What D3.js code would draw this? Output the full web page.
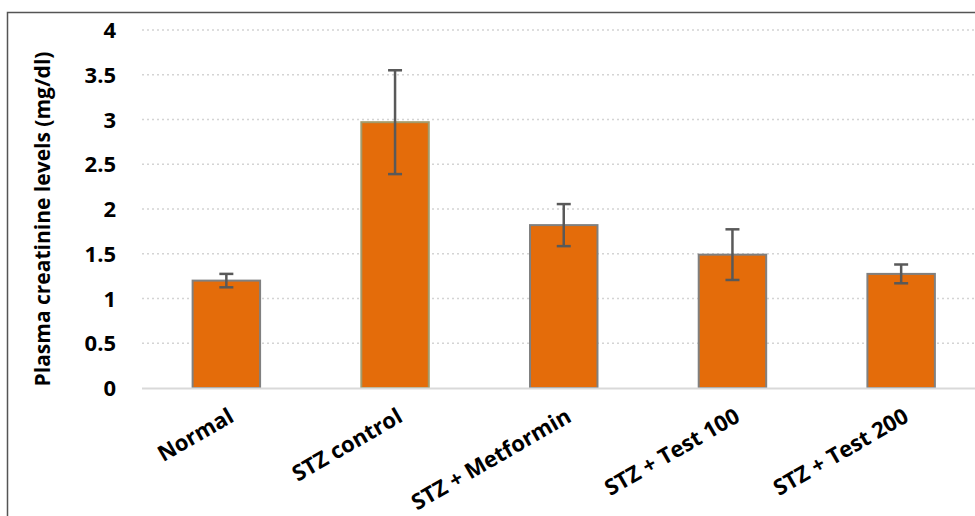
<!DOCTYPE html>
<html>
<head>
<meta charset="utf-8">
<script src="https://cdn.jsdelivr.net/npm/d3@7/dist/d3.min.js"></script>
<style>
  html, body { margin: 0; padding: 0; background: #fff; }
  svg { display: block; }
  text { font-family: "Open Sans", sans-serif; font-weight: 700; fill: #000; }
</style>
</head>
<body>
<svg id="chart" width="975" height="516"></svg>
<script>
const categories = ["Normal", "STZ control", "STZ + Metformin", "STZ + Test 100", "STZ + Test 200"];
const means = [1.2, 2.97, 1.82, 1.49, 1.275];
const errors = [0.075, 0.58, 0.235, 0.283, 0.105];
const yTicks = [0, 0.5, 1, 1.5, 2, 2.5, 3, 3.5, 4];
const yTitle = "Plasma creatinine levels (mg/dl)";

const svg = d3.select("#chart");
const W = 975, H = 516;

// frame
svg.append("path")
  .attr("d", `M7.5,${H} L7.5,12.5 L${W},12.5`)
  .attr("fill", "none").attr("stroke", "#555").attr("stroke-width", 1.5);

const x = d3.scaleBand().domain(categories).range([142, 985.5]).paddingInner(0.6).paddingOuter(0.3);
const y = d3.scaleLinear().domain([0, 4]).range([388, 30]);

// gridlines
svg.append("g").selectAll("line").data(yTicks.filter(d => d > 0)).join("line")
  .attr("x1", 142).attr("x2", W)
  .attr("y1", d => y(d)).attr("y2", d => y(d))
  .attr("stroke", "#d4d4d4").attr("stroke-width", 1.5)
  .attr("stroke-dasharray", "2,3");

// y axis labels
const yAxis = d3.axisLeft(y).tickValues(yTicks).tickSize(0).tickPadding(0).tickFormat(d3.format("~g"));
const gy = svg.append("g").attr("transform", "translate(116,0)").call(yAxis);
gy.select(".domain").remove();
gy.selectAll("text").attr("font-size", 22).attr("font-family", "'Open Sans', sans-serif").attr("font-weight", 700).attr("fill", "#000").attr("dy", "0.35em");

// bars
svg.append("g").selectAll("rect").data(categories).join("rect")
  .attr("x", d => x(d))
  .attr("y", (d, i) => y(means[i]))
  .attr("width", x.bandwidth())
  .attr("height", (d, i) => y(0) - y(means[i]))
  .attr("fill", "#e46c0a")
  .attr("stroke", (d, i) => i === 1 ? "#a39a6a" : "#808080")
  .attr("stroke-width", 2);

// baseline
svg.append("line").attr("x1", 142).attr("x2", W).attr("y1", y(0) + 0.5).attr("y2", y(0) + 0.5)
  .attr("stroke", "#d9d9d9").attr("stroke-width", 2);

// error bars
const eg = svg.append("g").attr("stroke", "#595959").attr("stroke-width", 2.5);
categories.forEach((c, i) => {
  const cx = x(c) + x.bandwidth() / 2;
  const top = y(means[i] + errors[i]), bot = y(means[i] - errors[i]);
  eg.append("line").attr("x1", cx).attr("x2", cx).attr("y1", top).attr("y2", bot);
  eg.append("line").attr("x1", cx - 7).attr("x2", cx + 7).attr("y1", top).attr("y2", top);
  eg.append("line").attr("x1", cx - 7).attr("x2", cx + 7).attr("y1", bot).attr("y2", bot);
});

// x labels
const xAxis = d3.axisBottom(x).tickSize(0).tickPadding(0);
const gx = svg.append("g").attr("transform", "translate(0,388)").call(xAxis);
gx.select(".domain").remove();
gx.selectAll("text")
  .attr("font-size", 22).attr("font-family", "'Open Sans', sans-serif").attr("font-weight", 700).attr("fill", "#000")
  .attr("text-anchor", "end")
  .attr("transform", "translate(1,19) rotate(-30)")
  .attr("dy", "0.72em").attr("y", 0).attr("x", 0);

// y title
svg.append("text")
  .attr("transform", "translate(50,219) rotate(-90)")
  .attr("text-anchor", "middle")
  .attr("font-size", 21)
  .text(yTitle);
</script>
</body>
</html>
